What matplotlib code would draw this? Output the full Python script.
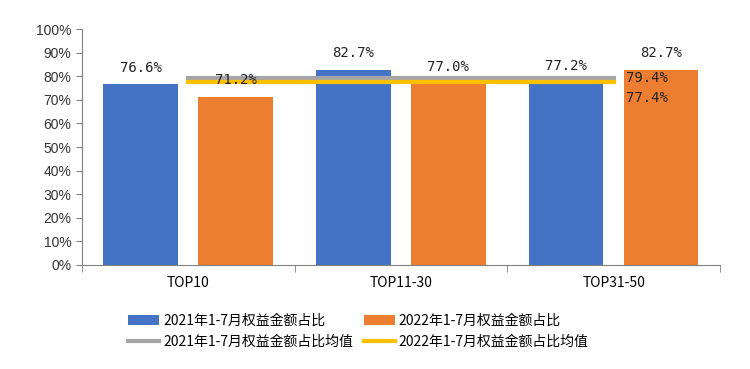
import numpy as np
import matplotlib.pyplot as plt
from matplotlib.ticker import FixedLocator

plt.rcParams['font.family'] = ['Noto Sans CJK SC', 'DejaVu Sans']

categories = ['TOP10', 'TOP11-30', 'TOP31-50']
share_2021 = [76.6, 82.7, 77.2]
share_2022 = [71.2, 77.0, 82.7]
avg_2021 = 79.4
avg_2022 = 77.4
y_ticks = [0, 10, 20, 30, 40, 50, 60, 70, 80, 90, 100]

blue = '#4472C4'
orange = '#ED7D31'
gray = '#A5A5A5'
yellow = '#FFC000'

fig = plt.figure(figsize=(7.5, 3.69), dpi=100)
ax = fig.add_axes([0.109, 0.282, 0.851, 0.639])

x = np.arange(len(categories))
w = 0.35
off = 0.223
b1 = ax.bar(x - off, share_2021, w, color=blue, zorder=2)
b2 = ax.bar(x + off, share_2022, w, color=orange, zorder=2)
l1, = ax.plot(x, [avg_2021] * len(x), color=gray, lw=3, zorder=3)
l2, = ax.plot(x, [avg_2022] * len(x), color=yellow, lw=3, zorder=3)

# data labels
lab_font = dict(family='DejaVu Sans Mono', fontsize=10, color='#222222')
for i in range(len(x)):
    ax.annotate('%.1f%%' % share_2021[i], (x[i] - off, share_2021[i]), xytext=(0, 7),
                textcoords='offset points', ha='center', va='bottom', **lab_font)
    ax.annotate('%.1f%%' % share_2022[i], (x[i] + off, share_2022[i]), xytext=(0, 7),
                textcoords='offset points', ha='center', va='bottom', **lab_font)
ax.annotate('%.1f%%' % avg_2021, (x[-1], avg_2021), xytext=(9, 0), textcoords='offset points',
            ha='left', va='center', **lab_font)
ax.annotate('%.1f%%' % avg_2022, (x[-1], avg_2022), xytext=(9, -11), textcoords='offset points',
            ha='left', va='center', **lab_font)

ax.set_xlim(-0.5, 2.5)
ax.set_ylim(0, 100)
ax.set_yticks(y_ticks)
ax.set_yticklabels(['%d%%' % v for v in y_ticks], family='Liberation Sans', fontsize=10, color='#333333')
ax.set_xticks(x)
ax.set_xticklabels(categories, fontsize=10)
ax.xaxis.set_minor_locator(FixedLocator([-0.5, 0.5, 1.5, 2.5]))
ax.tick_params(axis='x', which='major', length=0, pad=8)
ax.tick_params(axis='x', which='minor', length=5, color='#808080')
ax.tick_params(axis='y', length=4, color='#808080')

for s in ['top', 'right']:
    ax.spines[s].set_visible(False)
ax.spines['left'].set_color('#808080')
ax.spines['bottom'].set_color('#808080')

fig.legend([b1, l1, b2, l2],
           ['2021年1-7月权益金额占比', '2021年1-7月权益金额占比均值',
            '2022年1-7月权益金额占比', '2022年1-7月权益金额占比均值'],
           loc='lower center', bbox_to_anchor=(0.478, 0.02), ncol=2, frameon=False, fontsize=10,
           handlelength=2.2, columnspacing=0.8, labelspacing=0.5, handletextpad=0.3)

fig.savefig('out.png', dpi=100)
